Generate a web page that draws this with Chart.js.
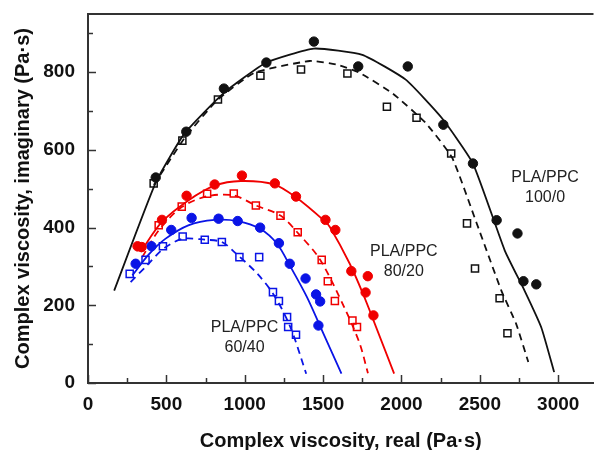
<!DOCTYPE html>
<html>
<head>
<meta charset="utf-8">
<script src="https://cdn.jsdelivr.net/npm/chart.js@4.4.1/dist/chart.umd.min.js"></script>
<style>
  html, body { margin: 0; padding: 0; background: #fff; }
  #wrap { width: 600px; height: 450px; }
</style>
</head>
<body>
<div id="wrap"><canvas id="coleCole"></canvas></div>
<script>
// PLA/PPC 100/0 : filled circles, open squares, solid and dashed fits
const pla100CircX = [432, 627, 867, 1138, 1441, 1724, 2040, 2267, 2456, 2607, 2740, 2778, 2860];
const pla100CircY = [529, 647, 758, 825, 879, 815, 815, 665, 565, 419, 385, 262, 254];
const pla100SqX = [419, 602, 829, 1100, 1359, 1655, 1907, 2096, 2317, 2418, 2469, 2626, 2676];
const pla100SqY = [514, 624, 730, 791, 807, 797, 711, 683, 591, 411, 295, 218, 128];
const pla100FitX = [167, 432, 615, 867, 1138, 1441, 1750, 2027, 2260, 2456, 2659, 2785, 2892, 2974];
const pla100FitY = [238, 516, 642, 747, 825, 861, 845, 781, 681, 565, 341, 238, 143, 28];
const pla100DashX = [420, 615, 829, 1064, 1415, 1586, 1731, 1945, 2153, 2323, 2479, 2637, 2731, 2809];
const pla100DashY = [510, 630, 730, 799, 829, 820, 799, 745, 670, 580, 412, 238, 153, 54];

// PLA/PPC 80/20
const pla80CircX = [316, 342, 472, 629, 808, 982, 1192, 1327, 1515, 1578, 1680, 1785, 1771, 1821];
const pla80CircY = [352, 350, 420, 482, 511, 534, 514, 480, 420, 394, 288, 275, 233, 174];
const pla80SqX = [335, 451, 598, 760, 930, 1071, 1228, 1338, 1491, 1530, 1575, 1687, 1716];
const pla80SqY = [350, 406, 454, 487, 488, 457, 431, 388, 317, 262, 211, 161, 144];
const pla80FitX = [335, 470, 640, 808, 976, 1190, 1327, 1506, 1544, 1670, 1754, 1838, 1953];
const pla80FitY = [337, 414, 470, 508, 520, 511, 478, 418, 401, 307, 230, 144, 24];
const pla80DashX = [346, 451, 598, 762, 930, 1071, 1228, 1344, 1480, 1638, 1733, 1786];
const pla80DashY = [324, 393, 453, 481, 483, 457, 431, 384, 318, 192, 102, 25];

// PLA/PPC 60/40
const pla60CircX = [304, 405, 531, 661, 833, 955, 1098, 1218, 1287, 1388, 1455, 1481, 1470];
const pla60CircY = [307, 352, 394, 425, 423, 417, 400, 360, 307, 269, 228, 210, 148];
const pla60SqX = [266, 367, 478, 604, 745, 854, 966, 1092, 1180, 1218, 1270, 1277, 1327];
const pla60SqY = [281, 317, 352, 377, 369, 363, 324, 324, 234, 211, 170, 144, 124];
const pla60FitX = [283, 388, 493, 640, 808, 955, 1098, 1207, 1291, 1397, 1502, 1617];
const pla60FitY = [277, 331, 371, 406, 420, 417, 397, 358, 300, 221, 127, 24];
const pla60DashX = [272, 377, 482, 604, 745, 854, 934, 1081, 1187, 1291, 1392];
const pla60DashY = [260, 303, 346, 371, 369, 363, 337, 281, 226, 144, 24];

// axis ticks
const xTickValues = [0, 250, 500, 750, 1000, 1250, 1500, 1750, 2000, 2250, 2500, 2750, 3000];
const yTickValues = [0, 100, 200, 300, 400, 500, 600, 700, 800, 900];

// series labels, anchored in data units
const seriesLabels = [
  { lines: ['PLA/PPC', '100/0'], x: 2916, y: 530 },
  { lines: ['PLA/PPC', '80/20'], x: 2015, y: 338 },
  { lines: ['PLA/PPC', '60/40'], x: 999, y: 143 }
];

const BLACK = '#111111';
const RED = '#f00000';
const BLUE = '#0a14e6';
const FONT = "'Liberation Sans', Arial, sans-serif";

function pts(xs, ys) {
  return xs.map((x, i) => ({ x: x, y: ys[i] }));
}

function fitLine(xs, ys, color, dashed, tension) {
  return {
    data: pts(xs, ys),
    showLine: true,
    borderColor: color,
    borderWidth: 1.8,
    borderDash: dashed ? [7, 5] : [],
    pointRadius: 0,
    tension: tension,
    fill: false,
    order: 2
  };
}

function circles(xs, ys, color) {
  return {
    data: pts(xs, ys),
    showLine: false,
    pointStyle: 'circle',
    pointRadius: 4.7,
    pointBackgroundColor: color,
    pointBorderColor: color,
    pointBorderWidth: 1,
    order: 1
  };
}

function squares(xs, ys, color) {
  return {
    data: pts(xs, ys),
    showLine: false,
    pointStyle: 'rect',
    pointRadius: 5,
    pointBackgroundColor: 'rgba(0,0,0,0)',
    pointBorderColor: color,
    pointBorderWidth: 1.5,
    order: 1
  };
}

// top frame line, inward tick marks and series labels
const frame = {
  id: 'frame',
  afterDraw(chart) {
    const { ctx, chartArea: a, scales: { x, y } } = chart;
    ctx.save();
    ctx.strokeStyle = '#333';
    ctx.lineWidth = 2;
    ctx.beginPath();
    ctx.moveTo(a.left - 1, a.top);
    ctx.lineTo(a.right, a.top);
    ctx.stroke();

    ctx.lineWidth = 1.5;
    xTickValues.forEach(v => {
      const px = Math.round(x.getPixelForValue(v)) + 0.5;
      const len = v % 500 === 0 ? 8 : 5;
      ctx.beginPath();
      ctx.moveTo(px, a.bottom);
      ctx.lineTo(px, a.bottom - len);
      ctx.stroke();
    });
    yTickValues.forEach(v => {
      const py = Math.round(y.getPixelForValue(v)) + 0.5;
      const len = v % 200 === 0 ? 8 : 5;
      ctx.beginPath();
      ctx.moveTo(a.left, py);
      ctx.lineTo(a.left + len, py);
      ctx.stroke();
    });

    ctx.fillStyle = '#222';
    ctx.font = '16px ' + FONT;
    ctx.textAlign = 'center';
    ctx.textBaseline = 'middle';
    seriesLabels.forEach(lab => {
      const cx = x.getPixelForValue(lab.x);
      const cy = y.getPixelForValue(lab.y);
      lab.lines.forEach((t, i) => ctx.fillText(t, cx, cy + i * 20));
    });
    ctx.restore();
  }
};

new Chart(document.getElementById('coleCole'), {
  type: 'scatter',
  data: {
    datasets: [
      fitLine(pla100FitX, pla100FitY, BLACK, false, 0.15),
      fitLine(pla100DashX, pla100DashY, BLACK, true, 0.15),
      fitLine(pla80FitX, pla80FitY, RED, false, 0.3),
      fitLine(pla80DashX, pla80DashY, RED, true, 0.3),
      fitLine(pla60FitX, pla60FitY, BLUE, false, 0.3),
      fitLine(pla60DashX, pla60DashY, BLUE, true, 0.3),
      circles(pla100CircX, pla100CircY, BLACK),
      squares(pla100SqX, pla100SqY, BLACK),
      circles(pla80CircX, pla80CircY, RED),
      squares(pla80SqX, pla80SqY, RED),
      circles(pla60CircX, pla60CircY, BLUE),
      squares(pla60SqX, pla60SqY, BLUE)
    ]
  },
  options: {
    responsive: true,
    maintainAspectRatio: false,
    animation: false,
    layout: { padding: { top: 14, right: 0, bottom: 0, left: 0 } },
    plugins: {
      legend: { display: false },
      tooltip: { enabled: false }
    },
    scales: {
      x: {
        type: 'linear',
        min: 0,
        max: 3225,
        grid: { display: false, drawTicks: false },
        border: { display: true, color: '#333', width: 2 },
        afterBuildTicks: s => { s.ticks = xTickValues.map(v => ({ value: v })); },
        afterFit: s => { s.height = 67; s.paddingLeft = 0; s.paddingRight = 0; },
        ticks: {
          autoSkip: false,
          maxRotation: 0,
          padding: 10,
          color: '#111',
          font: { family: FONT, size: 19, weight: 'bold' },
          callback: v => (v % 500 === 0 ? v : '')
        },
        title: {
          display: true,
          text: 'Complex viscosity, real (Pa·s)',
          color: '#111',
          font: { family: FONT, size: 20, weight: 'bold' },
          padding: { top: 0, bottom: -3 }
        }
      },
      y: {
        type: 'linear',
        min: 0,
        max: 950,
        grid: { display: false, drawTicks: false },
        border: { display: true, color: '#333', width: 2 },
        afterBuildTicks: s => { s.ticks = yTickValues.map(v => ({ value: v })); },
        afterFit: s => { s.width = 88; s.paddingTop = 0; s.paddingBottom = 0; },
        ticks: {
          autoSkip: false,
          padding: 13,
          color: '#111',
          font: { family: FONT, size: 19, weight: 'bold' },
          callback: v => (v % 200 === 0 ? v : '')
        },
        title: {
          display: true,
          text: 'Complex viscosity, imaginary (Pa·s)',
          color: '#111',
          font: { family: FONT, size: 20, weight: 'bold' },
          padding: { top: 11, bottom: 0 }
        }
      }
    }
  },
  plugins: [frame]
});
</script>
</body>
</html>
